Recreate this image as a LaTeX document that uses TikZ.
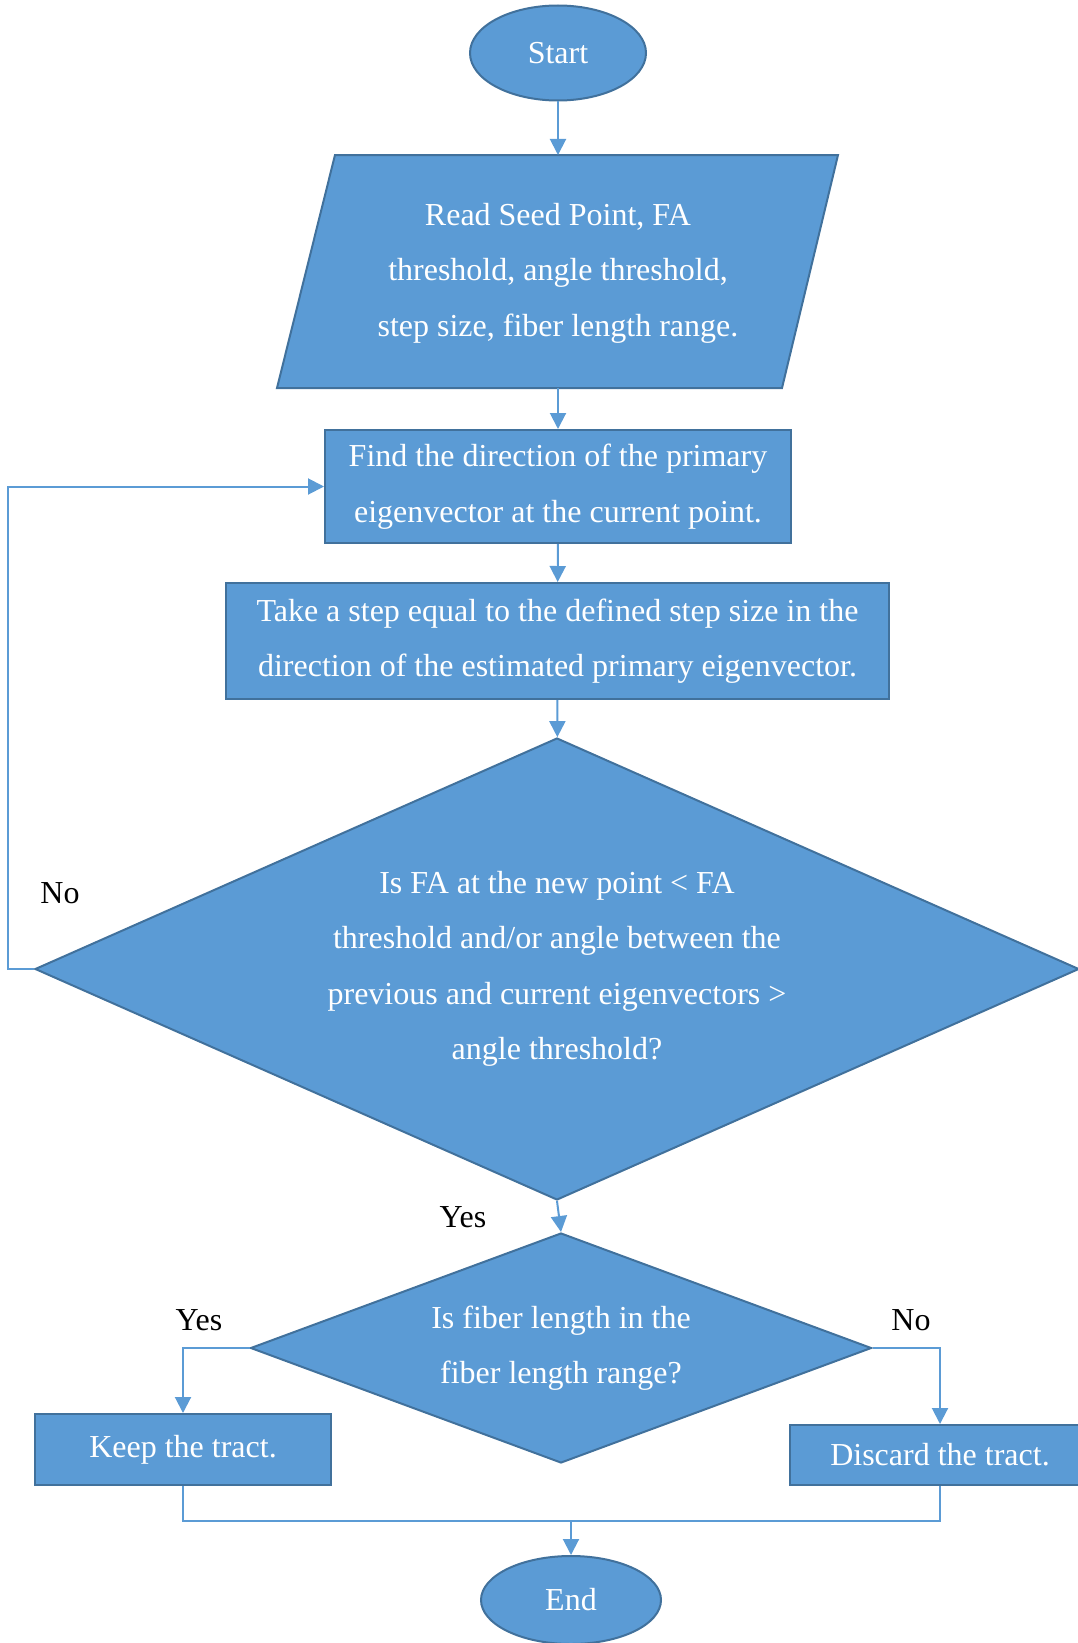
\documentclass[tikz,border=0pt]{standalone}
\usepackage{fontspec}
\setmainfont{Liberation Serif}
\usetikzlibrary{shapes.geometric,arrows.meta}
\definecolor{boxblue}{RGB}{91,155,213}
\definecolor{edgeblue}{RGB}{65,113,156}
\begin{document}
\begin{tikzpicture}[x = 1pt, y = -1pt,
  font = \fontsize{32}{55.5}\selectfont,
  blk/.style = {draw = edgeblue, fill = boxblue, line width = 2pt, text = white, align = center, inner sep = 0pt},
  dia/.style = {blk, diamond, shape aspect = #1},
  line/.style = {draw = boxblue, line width = 2pt},
  arr/.style = {line, -{Triangle[length = 16pt, width = 16pt]}}]
\useasboundingbox (0,0) rectangle (1077,1643);
\draw (558,53) node[blk, ellipse, minimum width = 176, minimum height = 95] (start) {Start};
\draw[blk] (335,155) -- (838,155) -- (782,388) -- (277,388) -- cycle;
\draw (558,273) node[text = white, align = center] (read) {Read Seed Point, FA\\threshold, angle threshold,\\step size, fiber length range.};
\coordinate (readtop) at (558,155); \coordinate (readbot) at (558,388);
\draw (558,486.5) node[blk, minimum width = 466, minimum height = 113] (find) {Find the direction of the primary\\eigenvector at the current point.};
\draw (557.5,641) node[blk, minimum width = 663, minimum height = 116] (take) {Take a step equal to the defined step size in the\\direction of the estimated primary eigenvector.};
\draw (557,969) node[dia = 2.26, minimum width = 1044, minimum height = 462] (isfa) {Is FA at the new point < FA\\threshold and/or angle between the\\previous and current eigenvectors >\\angle threshold?};
\draw (561,1348) node[dia = 2.7, minimum width = 621, minimum height = 230] (fiber) {Is fiber length in the\\fiber length range?};
\draw (183,1449.5) node[blk, minimum width = 296, minimum height = 71] (keep) {Keep the tract.};
\draw (940,1455) node[blk, minimum width = 300, minimum height = 60] (discard) {Discard the tract.};
\draw (571,1600) node[blk, ellipse, minimum width = 180, minimum height = 88] (end) {End};
\coordinate (join) at (571,1521);
\draw[arr] (start) -- (readtop);
\draw[arr] (readbot) -- (find);
\draw[arr] (find) -- (take);
\draw[arr] (take) -- (isfa);
\draw[arr] (isfa.south) -- (fiber.north);
\draw[arr] (isfa.west) -- ++(-26,0) |- (find.west);
\draw[arr] (fiber.west) -| (keep.north);
\draw[arr] (fiber.east) -| (discard.north);
\draw[line] (keep.south) |- (join);
\draw[line] (discard.south) |- (join);
\draw[arr] (join) -- (end);
\draw (60,893) node (noloop) {No};
\draw (463,1217) node (yesdown) {Yes};
\draw (199,1320) node (yeskeep) {Yes};
\draw (911,1320) node (nodiscard) {No};
\end{tikzpicture}
\end{document}
